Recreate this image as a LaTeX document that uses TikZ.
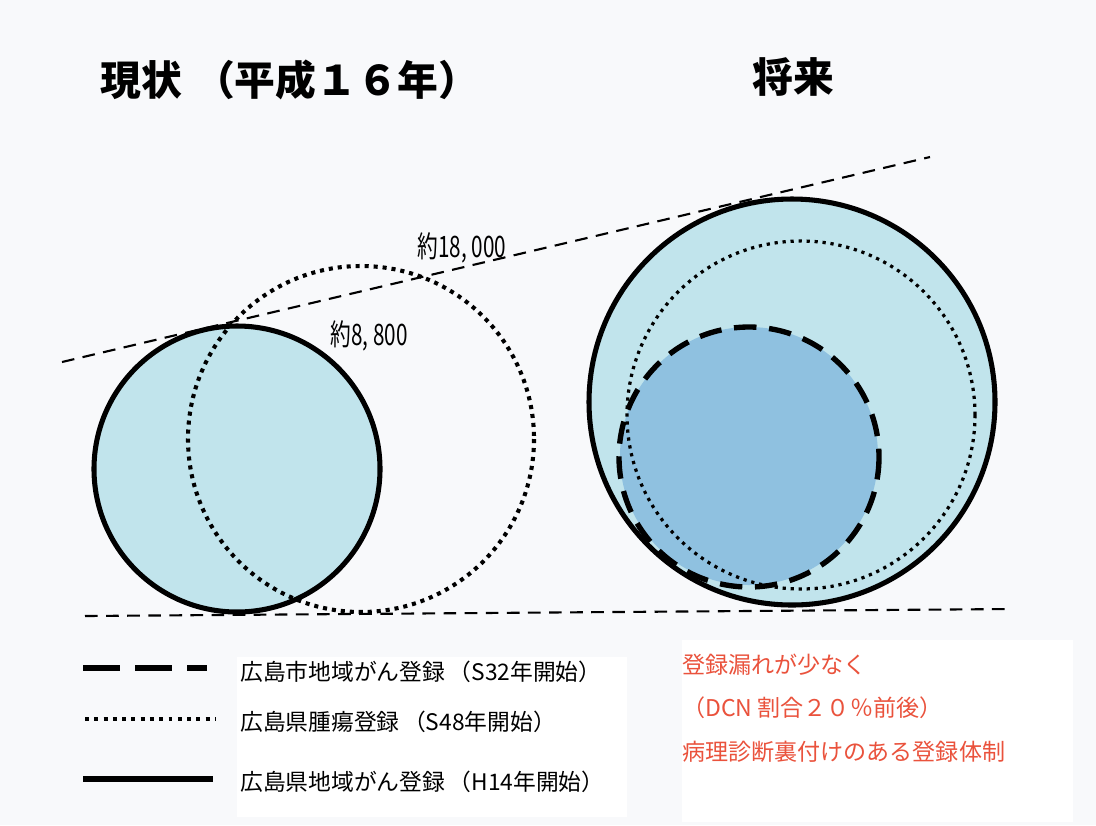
\documentclass[tikz,border=0pt]{standalone}
\usepackage{fontspec}
\setmainfont{Noto Sans CJK JP}
\newfontfamily\narrowfont{Noto Sans CJK JP}[FakeStretch=0.7]
\definecolor{pagebg}{RGB}{248,249,251}
\definecolor{paleblue}{RGB}{193,228,236}
\definecolor{midblue}{RGB}{143,193,224}
\definecolor{notered}{RGB}{234,82,60}

\begin{document}
\begin{tikzpicture}[
	x=0.025cm, y=-0.025cm,
	heading/.style={font=\fontsize{29pt}{32pt}\selectfont\bfseries, inner sep=0pt},
	count/.style={font=\narrowfont\fontsize{21pt}{23pt}\selectfont, inner sep=0pt},
	keytext/.style={font=\fontsize{16.2pt}{18pt}\selectfont, anchor=west, inner sep=0pt},
	note/.style={font=\fontsize{16.4pt}{18pt}\selectfont, text=notered, anchor=west, inner sep=0pt},
	guide/.style={line width=1.5pt, dash pattern=on 9pt off 6pt},
	prefreg/.style={line width=3.6pt},
	tumorreg/.style={line width=2.9pt, dash pattern=on 2.9pt off 3.5pt},
	finedots/.style={line width=2.3pt, dash pattern=on 2.3pt off 3.4pt},
	cityreg/.style={line width=3.8pt, dash pattern=on 16pt off 9pt},
	citykey/.style={line width=3.6pt, dash pattern=on 26.3pt off 10.7pt},
	tumorkey/.style={line width=2.8pt, dash pattern=on 2.8pt off 3.8pt},
]
	\useasboundingbox (0,0) rectangle (1096,825);
	\fill[pagebg] (0,0) rectangle (1096,825);
	\fill[white] (237,657) rectangle (627,817);
	\fill[white] (682,640) rectangle (1073,822);

	\node[heading, anchor=west] (now) at (100,80) {現状\hspace{0.3em}（平成１６年）};
	\node[heading] (future) at (793,77) {将来};

	\fill[paleblue] (237,469) circle (143);
	\draw[tumorreg] (361,439) circle (173);
	\draw[prefreg] (237,469) circle (143);

	\fill[paleblue] (792,402) circle (203);
	\fill[midblue] (749,456) circle (129);
	\draw[finedots] (801,415) circle (174);
	\draw[cityreg] (749,457) circle (130);
	\draw[prefreg] (792,402) circle (203);

	\coordinate (ua) at (62,362);
	\coordinate (ub) at (930,157);
	\coordinate (la) at (85,616);
	\coordinate (lb) at (1013,609);
	\draw[guide] (ua) -- (ub);
	\draw[guide] (la) -- (lb);

	\node[count] (big) at (462,248) {約18, 000};
	\node[count] (small) at (369,336) {約8, 800};

	\coordinate (k1a) at (83,668);
	\coordinate (k1b) at (207,668);
	\coordinate (k2a) at (85,719);
	\coordinate (k2b) at (215,719);
	\coordinate (k3a) at (83,779);
	\coordinate (k3b) at (213,779);
	\draw[citykey] (k1a) -- (k1b);
	\draw[tumorkey] (k2a) -- (k2b);
	\draw[prefreg] (k3a) -- (k3b);

	\node[keytext] (city) at (240,672) {広島市地域がん登録\hspace{0.15em}（S32年開始）};
	\node[keytext] (tumor) at (240,722) {広島県腫瘍登録\hspace{0.15em}（S48年開始）};
	\node[keytext] (pref) at (240,782) {広島県地域がん登録\hspace{0.15em}（H14年開始）};

	\node[note] (n1) at (682,665) {登録漏れが少なく};
	\node[note] (n2) at (682,708) {（DCN 割合２０％前後）};
	\node[note] (n3) at (682,752) {病理診断裏付けのある登録体制};
\end{tikzpicture}
\end{document}
